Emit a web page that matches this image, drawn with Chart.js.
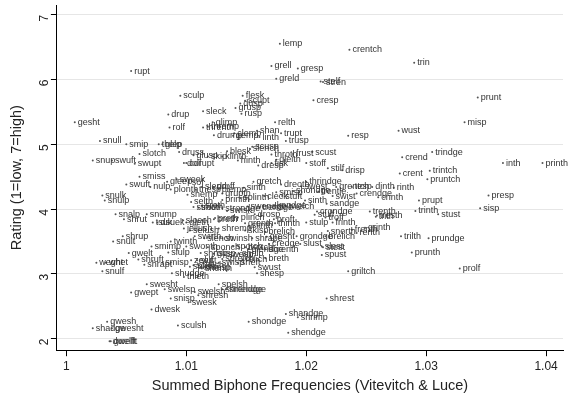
<!DOCTYPE html>
<html><head><meta charset="utf-8">
<script src="https://cdn.jsdelivr.net/npm/chart.js@4/dist/chart.umd.min.js"></script>
<style>html,body{margin:0;padding:0;background:#fff;}#wrap{width:579px;height:397px;}</style>
</head><body><div id="wrap"><canvas id="c" width="579" height="397"></canvas></div>
<script>
const words = ["lemp","crentch","trin","rupt","grell","gresp","greld","stelf","stren","sculp","flesk","scupt","dusp","grusp","rusp","cresp","prunt","sleck","drup","gesht","rolf","glimp","threnth","thremp","relth","misp","wust","shan","clemp","trupt","drump","gemp","linth","resp","trusp","snull","smip","thelp","glep","slotch","druss","glusp","skip","klinth","blesk","scusp","slench","hinth","throth","frust","scust","gleith","fisk","dresp","stoff","stilf","drisp","snup","swuft","swupt","dolf","corupt","crend","trindge","inth","printh","crent","trintch","pruntch","smiss","sweek","gleep","sof","swuft","nulp","plonth","thesp","slend","droff","plemp","sinth","gretch","dreoth","swest","thrindge","smisp","shondge","trentle","grentch","tesp","dinth","rinth","crendge","swist","crinth","prupt","presp","sisp","snulk","snulp","cleck","stuft","sinth","sandge","shemp","grupth","prinith","splinth","stroth","shoth","sroth","strondge","swisk","swendge","trendge","kendge","twelch","selth","trenth","trith","tresth","trinth","stust","crondge","stulf","troff","snalp","snump","shrut","tsuk","dsuek","sloech","breth","drosp","proft","thinth","stulp","frinth","snerth","frenth","grinth","renth","brelich","grondge","brelich","gresht","trilth","prundge","prunth","shrup","snult","twinth","jellush","shremp","skisp","smimp","swonth","gwelt","slulp","shruft","smisp","shrapt","weght","whet","snulf","credge","slust","shrenth","slest","stest","spust","breth","relich","swisp","sheft","swust","shesp","splish","shenth","shudge","thleth","griltch","prolf","swesht","swelsp","spelsh","shrendge","smendge","gwept","shresh","swelsh","snisp","swesk","shrest","dwesk","shandge","shrimp","shondge","gwesh","shadge","gwesht","sculsh","shendge","dwelft","gwelft","gleth","preth","plinch","grenth","slinth","selush","swirth","slench","swinsh","shrape","sponch","spotch","brotch","glendge","shrisp","glisp","swesp","shrilp","zeelf","sluft","sprelch","sclelsh","shresp"];
const biphoneFreq = [1.0178,1.0236,1.0290,1.0054,1.0171,1.0193,1.0175,1.0212,1.0214,1.0095,1.0147,1.0149,1.0145,1.0141,1.0146,1.0206,1.0343,1.0114,1.0085,1.0007,1.0086,1.0122,1.0114,1.0118,1.0174,1.0332,1.0277,1.0159,1.0140,1.0179,1.0123,1.0139,1.0161,1.0235,1.0183,1.0028,1.0050,1.0077,1.0080,1.0061,1.0094,1.0106,1.0118,1.0130,1.0134,1.0155,1.0153,1.0143,1.0171,1.0189,1.0205,1.0175,1.0171,1.0160,1.0200,1.0218,1.0230,1.0022,1.0038,1.0057,1.0098,1.0100,1.0280,1.0305,1.0364,1.0397,1.0278,1.0303,1.0301,1.0061,1.0092,1.0084,1.0102,1.0050,1.0070,1.0087,1.0108,1.0113,1.0123,1.0127,1.0148,1.0156,1.0179,1.0196,1.0200,1.0175,1.0189,1.0210,1.0225,1.0238,1.0255,1.0273,1.0242,1.0222,1.0260,1.0294,1.0352,1.0345,1.0030,1.0032,1.0165,1.0180,1.0199,1.0217,1.0101,1.0130,1.0130,1.0145,1.0106,1.0110,1.0113,1.0130,1.0134,1.0151,1.0161,1.0173,1.0183,1.0104,1.0253,1.0258,1.0259,1.0291,1.0310,1.0209,1.0207,1.0216,1.0041,1.0067,1.0048,1.0072,1.0076,1.0097,1.0123,1.0157,1.0173,1.0174,1.0200,1.0222,1.0218,1.0238,1.0249,1.0242,1.0216,1.0192,1.0166,1.0167,1.0279,1.0302,1.0288,1.0047,1.0039,1.0087,1.0098,1.0127,1.0149,1.0071,1.0100,1.0052,1.0085,1.0060,1.0080,1.0065,1.0025,1.0033,1.0030,1.0169,1.0195,1.0166,1.0213,1.0214,1.0213,1.0166,1.0147,1.0127,1.0143,1.0157,1.0159,1.0103,1.0113,1.0088,1.0098,1.0235,1.0328,1.0067,1.0082,1.0127,1.0130,1.0133,1.0054,1.0110,1.0107,1.0087,1.0102,1.0217,1.0071,1.0183,1.0193,1.0152,1.0034,1.0022,1.0038,1.0093,1.0185,1.0036,1.0037,1.0100,1.0124,1.0143,1.0149,1.0152,1.0103,1.0107,1.0115,1.0130,1.0155,1.0118,1.0139,1.0149,1.0152,1.0112,1.0123,1.0132,1.0144,1.0104,1.0109,1.0130,1.0106,1.0112];
const ratings = [6.55,6.46,6.26,6.13,6.21,6.17,6.01,5.97,5.96,5.75,5.75,5.67,5.63,5.56,5.47,5.68,5.72,5.51,5.46,5.34,5.26,5.34,5.26,5.27,5.34,5.34,5.21,5.21,5.17,5.17,5.14,5.13,5.11,5.13,5.05,5.05,5.00,5.00,5.00,4.85,4.88,4.83,4.81,4.81,4.89,4.96,4.93,4.75,4.84,4.85,4.88,4.76,4.71,4.67,4.71,4.63,4.60,4.75,4.75,4.70,4.71,4.71,4.80,4.88,4.71,4.71,4.55,4.59,4.46,4.50,4.46,4.42,4.41,4.38,4.34,4.30,4.30,4.34,4.34,4.30,4.33,4.42,4.38,4.35,4.42,4.26,4.28,4.27,4.34,4.34,4.34,4.33,4.24,4.20,4.18,4.13,4.21,4.01,4.21,4.13,4.20,4.20,4.13,4.08,4.22,4.24,4.14,4.17,4.03,4.02,4.05,4.01,3.97,4.04,4.03,4.05,4.04,4.11,3.96,3.88,3.90,3.97,3.92,3.96,3.91,3.87,3.92,3.92,3.84,3.79,3.79,3.83,3.84,3.92,3.84,3.78,3.79,3.79,3.66,3.68,3.71,3.63,3.58,3.58,3.65,3.57,3.58,3.55,3.33,3.58,3.50,3.50,3.70,3.70,3.67,3.42,3.42,3.32,3.33,3.22,3.17,3.14,3.17,3.17,3.04,3.46,3.46,3.38,3.42,3.41,3.29,3.24,3.22,3.17,3.17,3.10,3.01,3.11,3.08,3.01,2.95,3.04,3.08,2.84,2.76,2.84,2.76,2.76,2.71,2.67,2.72,2.62,2.56,2.62,2.45,2.38,2.33,2.26,2.26,2.16,2.16,2.20,2.09,1.96,1.96,3.79,3.86,3.87,3.78,3.74,3.67,3.58,3.55,3.55,3.55,3.41,3.42,3.41,3.38,3.32,3.31,3.29,3.31,3.21,3.21,3.23,3.13,3.10];
const xTickValues = [1, 1.01, 1.02, 1.03, 1.04];
const xTickLabels = ["1", "1.01", "1.02", "1.03", "1.04"];
const yTickValues = [2, 3, 4, 5, 6, 7];
const yTickLabels = ["2", "3", "4", "5", "6", "7"];
const xTitle = "Summed Biphone Frequencies (Vitevitch & Luce)";
const yTitle = "Rating (1=low, 7=high)";

const points = biphoneFreq.map((v, i) => ({x: v, y: ratings[i]}));

const labelPlugin = {
  id: 'pointLabels',
  afterDatasetsDraw(chart) {
    const ctx = chart.ctx;
    const xs = chart.scales.x, ys = chart.scales.y;
    ctx.save();
    ctx.font = '9px "Liberation Sans", Arial, sans-serif';
    ctx.fillStyle = '#333';
    ctx.textBaseline = 'middle';
    ctx.textAlign = 'left';
    words.forEach((w, i) => {
      const px = xs.getPixelForValue(biphoneFreq[i]);
      const py = ys.getPixelForValue(ratings[i]);
      ctx.fillText(w, px + 3, py);
    });
    ctx.restore();
  }
};

new Chart(document.getElementById('c'), {
  type: 'scatter',
  data: { datasets: [{ data: points, pointRadius: 1, pointHoverRadius: 1, pointBackgroundColor: '#555', pointBorderWidth: 0 }] },
  options: {
    responsive: false, animation: false,
    layout: { padding: { left: 7, right: 16, top: 5, bottom: 2 } },
    plugins: { legend: { display: false }, tooltip: { enabled: false } },
    scales: {
      x: {
        type: 'linear', min: 0.99921, max: 1.04141,
        afterBuildTicks: a => { a.ticks = xTickValues.map(v => ({value: v})); },
        ticks: { callback: (v) => xTickLabels[xTickValues.indexOf(v)] ?? '', color: '#222', font: { family: 'Liberation Sans', size: 12 }, maxRotation: 0, padding: 3 },
        grid: { drawOnChartArea: false, drawTicks: true, tickLength: 6, tickColor: '#000' },
        border: { display: true, color: '#000', width: 1 },
        title: { display: true, text: xTitle, color: '#222', font: { family: 'Liberation Sans', size: 14.5 }, padding: { top: 1, bottom: 0 } }
      },
      y: {
        type: 'linear', min: 1.82, max: 7.15,
        afterBuildTicks: a => { a.ticks = yTickValues.map(v => ({value: v})); },
        afterFit: s => { s.paddingTop = 0; },
        ticks: { callback: (v) => yTickLabels[yTickValues.indexOf(v)] ?? '', color: '#222', font: { family: 'Liberation Sans', size: 12 }, minRotation: 90, maxRotation: 90, padding: 6 },
        grid: { color: '#e6e6e6', lineWidth: 1, drawTicks: true, tickLength: 6, tickColor: '#000' },
        border: { display: true, color: '#000', width: 1 },
        title: { display: true, text: yTitle, color: '#222', font: { family: 'Liberation Sans', size: 14.5, lineHeight: 1.0 }, padding: { top: 3, bottom: 0 } }
      }
    }
  },
  plugins: [labelPlugin]
});
</script></body></html>
